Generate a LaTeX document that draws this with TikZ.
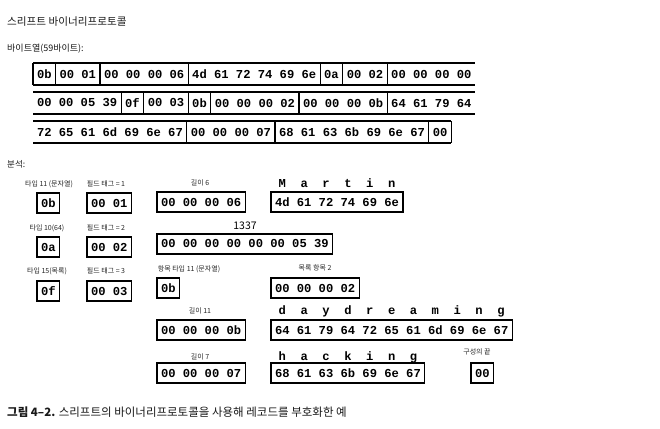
\documentclass[tikz,border=0pt]{standalone}
\usepackage{fontspec}
\newfontfamily\kr{Noto Sans CJK KR}
\newfontfamily\mono{Liberation Mono}
\newcommand\hexf{\mono\bfseries\fontsize{12.15}{14}\selectfont}
\newcommand\lblf{\kr\fontsize{7}{8}\selectfont}
\tikzset{
  cell/.style={font=\hexf, inner xsep=4pt, inner ysep=0pt, minimum height=22pt, outer sep=0pt, anchor=west},
  bx/.style={draw, line width=1.2pt, font=\hexf, inner xsep=4pt, inner ysep=0pt, minimum height=20pt, outer sep=0pt, anchor=west},
  lbl/.style={font=\lblf, text=black!85, inner sep=0pt},
  ltr/.style={font=\hexf, inner sep=0pt, anchor=base},
  strip/.style={line width=1.2pt},
  head/.style={font=\kr, text=black!90, inner sep=0pt, anchor=west}
}
\begin{document}
\begin{tikzpicture}[x=1pt,y=-1pt]
\useasboundingbox[fill=white] (0,0) rectangle (660,428);

\node[head, font=\kr\fontsize{10.6}{12}\selectfont] (title) at (7,22) {스리프트 바이너리프로토콜};
\node[head, font=\kr\fontsize{9}{10}\selectfont] (bytes) at (7,49) {바이트열(59바이트):};
\node[head, font=\kr\fontsize{8.5}{10}\selectfont] (anal) at (7,164) {분석:};

% ---- row 1
\node[cell] (a1) at (33,74) {0b};
\node[cell] (a2) at (a1.east) {00 01};
\node[cell] (a3) at (a2.east) {00 00 00 06};
\node[cell] (a4) at (a3.east) {4d 61 72 74 69 6e};
\node[cell] (a5) at (a4.east) {0a};
\node[cell] (a6) at (a5.east) {00 02};
\node[cell] (a7) at (a6.east) {00 00 00 00};
\draw[strip] (a1.north west) -- (a7.north east);
\draw[strip] (a1.south west) -- (a7.south east);
\draw[strip] (a1.north west) -- (a1.south west);
\foreach \c in {a1,a2,a3,a4,a5,a6} \draw[strip] (\c.north east) -- (\c.south east);

% ---- row 2
\node[cell] (b1) at (33,103) {00 00 05 39};
\node[cell] (b2) at (b1.east) {0f};
\node[cell] (b3) at (b2.east) {00 03};
\node[cell] (b4) at (b3.east) {0b};
\node[cell] (b5) at (b4.east) {00 00 00 02};
\node[cell] (b6) at (b5.east) {00 00 00 0b};
\node[cell] (b7) at (b6.east) {64 61 79 64};
\draw[strip] (b1.north west) -- (b7.north east);
\draw[strip] (b1.south west) -- (b7.south east);
\foreach \c in {b1,b2,b3,b4,b5,b6} \draw[strip] (\c.north east) -- (\c.south east);

% ---- row 3
\node[cell] (c1) at (33,132) {72 65 61 6d 69 6e 67};
\node[cell] (c2) at (c1.east) {00 00 00 07};
\node[cell] (c3) at (c2.east) {68 61 63 6b 69 6e 67};
\node[cell] (c4) at (c3.east) {00};
\draw[strip] (c1.north west) -- (c4.north east);
\draw[strip] (c1.south west) -- (c4.south east);
\foreach \c in {c1,c2,c3,c4} \draw[strip] (\c.north east) -- (\c.south east);

% ---- analysis boxes
\node[lbl] (l1) at (49,184) {타입 11 (문자열)};
\node[lbl] (l2) at (106,184) {필드 태그 = 1};
\node[lbl] (l3) at (200,183) {길이 6};
\node[bx] (k1) at (37,203) {0b};
\node[bx] (k2) at (87,203) {00 01};
\node[bx] (k3) at (157,202) {00 00 00 06};
\node[bx] (k4) at (271,202) {4d 61 72 74 69 6e};
\foreach \ch [count=\i from 0] in {M,a,r,t,i,n}
  \node[ltr] (m\i) at ({275+7.29*(1+3*\i)},187) {\ch};

\node[lbl] (l4) at (47,228) {타입 10(64)};
\node[lbl] (l5) at (106,228) {필드 태그 = 2};
\node[font=\kr\fontsize{10.5}{12}\selectfont, inner sep=0pt] (l6) at (245,226) {1337};
\node[bx] (k5) at (37,247) {0a};
\node[bx] (k6) at (87,247) {00 02};
\node[bx] (k7) at (157,244) {00 00 00 00 00 00 05 39};

\node[lbl] (l7) at (47,271) {타입 15(목록)};
\node[lbl] (l8) at (106,271) {필드 태그 = 3};
\node[lbl] (l9) at (189,269) {항목 타입 11 (문자열)};
\node[lbl] (l10) at (315,268) {목록 항목 2};
\node[bx] (k8) at (37,291) {0f};
\node[bx] (k9) at (87,291) {00 03};
\node[bx] (k10) at (157,288) {0b};
\node[bx] (k11) at (271,288) {00 00 00 02};

\node[lbl] (l11) at (200,311) {길이 11};
\node[bx] (k12) at (157,330) {00 00 00 0b};
\node[bx] (k13) at (271,330) {64 61 79 64 72 65 61 6d 69 6e 67};
\foreach \ch [count=\i from 0] in {d,a,y,d,r,e,a,m,i,n,g}
  \node[ltr] (d\i) at ({275+7.29*(1+3*\i)},314) {\ch};

\node[lbl] (l12) at (200,357) {길이 7};
\node[lbl] (l13) at (477,352) {구성의 끝};
\node[bx] (k14) at (157,373) {00 00 00 07};
\node[bx] (k15) at (271,373) {68 61 63 6b 69 6e 67};
\node[bx] (k16) at (471,373) {00};
\foreach \ch [count=\i from 0] in {h,a,c,k,i,n,g}
  \node[ltr] (h\i) at ({275+7.29*(1+3*\i)},360) {\ch};

\node[head, font=\kr\fontsize{11.5}{13}\selectfont] (cap) at (7,412) {\textbf{그림 4–2.} 스리프트의 바이너리프로토콜을 사용해 레코드를 부호화한 예};
\end{tikzpicture}
\end{document}
